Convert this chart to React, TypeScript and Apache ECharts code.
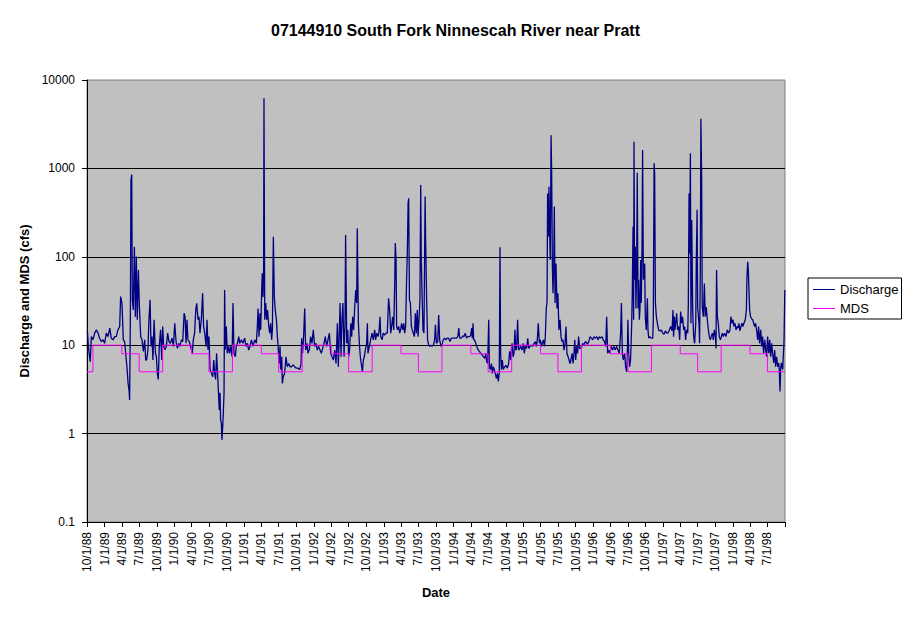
import { useEffect, useRef } from "react";
import * as echarts from "echarts";

// daily discharge, [days since 10/1/88, cfs], one list per water year
const wy1989 = [
  [2, 14.3], [9, 8.9], [17, 6.5], [23, 12.5], [31, 11.5], [40, 13.7], [49, 14.9], [58, 13.7], [66, 12], [75, 11],
  [84, 11.5], [92, 10.5], [101, 13.7], [110, 12.5], [119, 15.6], [127, 12], [136, 11.5], [145, 12.5], [153, 12.5],
  [162, 14.9], [171, 16.3], [176, 35.5], [183, 29.8], [190, 11.5], [197, 11], [204, 7.4], [209, 5.7], [215, 3.7],
  [220, 3.1], [223, 2.4], [227, 23], [230, 740], [234, 850], [237, 32.6], [242, 25], [248, 130], [253, 21],
  [258, 101], [263, 19.4], [269, 71], [274, 27.4], [281, 12.5], [288, 11.5], [295, 8.5], [302, 11.5], [307, 6.8],
  [312, 6.8], [319, 8.9], [324, 19.4], [330, 32.6], [335, 9.7], [340, 12.5], [345, 6.8], [351, 19.4], [358, 8.1],
  [363, 7.4],
];
const wy1990 = [
  [368, 4.8], [373, 4.1], [378, 9.7], [385, 14.9], [391, 6.8], [396, 16.3], [401, 9.7], [408, 8.9], [415, 9.7],
  [422, 13.7], [429, 11], [436, 10.5], [445, 12], [452, 9.7], [459, 17.7], [466, 11], [473, 9.2], [480, 10.5],
  [487, 9.7], [494, 11.5], [501, 11], [508, 23], [513, 21], [518, 10.5], [523, 19.4], [528, 11.5], [535, 11],
  [542, 9.7], [546, 8.9], [551, 8.1], [556, 11.5], [563, 13.7], [569, 25], [574, 29.8], [581, 19.4], [586, 21],
  [591, 13.7], [598, 19.4], [605, 38.8], [610, 16.3], [616, 13.7], [623, 9.7], [628, 19.4], [633, 8.9], [638, 12.5],
  [644, 5.3], [651, 4.8], [658, 4.4], [663, 6.8], [668, 4.8], [673, 4.1], [678, 8.1], [684, 4.4], [689, 2.6],
  [692, 1.85], [696, 2.9], [699, 1.43], [703, 1.31], [706, 0.85], [710, 1.2], [713, 1.7], [717, 2.9], [720, 42],
  [724, 8.9], [729, 16.3],
];
const wy1991 = [
  [734, 8.1], [741, 9.7], [746, 8.1], [752, 9.7], [759, 7.4], [764, 30], [769, 8.1], [776, 7.4], [781, 9.7],
  [787, 10.5], [794, 12.5], [799, 10.5], [808, 11.5], [816, 10.5], [825, 12], [832, 9.7], [839, 10.5], [846, 8.8],
  [853, 9.7], [860, 11.5], [869, 9.7], [877, 11.5], [886, 10.5], [891, 16.3], [895, 26], [900, 12.5], [905, 23],
  [909, 14.9], [914, 42], [917, 65], [921, 35], [924, 65], [926, 6200], [930, 19.4], [935, 30], [940, 19.4],
  [945, 25], [951, 16.3], [956, 13.7], [961, 17.7], [966, 11.5], [970, 14.9], [975, 169], [980, 35], [985, 25],
  [991, 19.4], [996, 12.5], [999, 10.5], [1005, 6.2], [1010, 9.7], [1013, 5.3], [1019, 7.4], [1022, 3.7],
  [1027, 4.4], [1034, 4.8], [1041, 7.4], [1048, 5.7], [1055, 6.2], [1062, 5.7], [1069, 5.7], [1078, 6],
  [1087, 5.7],
];
const wy1992 = [
  [1095, 5.5], [1104, 5.5], [1113, 5.3], [1120, 6.2], [1123, 12], [1128, 8.1], [1134, 13.7], [1139, 26],
  [1144, 8.8], [1151, 10.5], [1156, 8.1], [1163, 8.8], [1170, 12.5], [1177, 10.5], [1184, 14.9], [1191, 9.7],
  [1198, 10.5], [1205, 8.8], [1212, 9.7], [1219, 8.8], [1226, 8.1], [1233, 9.2], [1240, 10.5], [1247, 12.5],
  [1254, 9.7], [1261, 11.5], [1268, 13.7], [1275, 8.1], [1282, 7.4], [1289, 6.8], [1296, 8.8], [1303, 6.2],
  [1310, 17.7], [1315, 5.7], [1320, 13.7], [1324, 30], [1329, 7.4], [1334, 19.4], [1339, 30], [1345, 7.4],
  [1350, 17.7], [1353, 176], [1359, 10.5], [1364, 14.9], [1369, 7.4], [1374, 8.8], [1380, 17.7], [1385, 12.5],
  [1390, 21], [1395, 14.9], [1400, 25], [1406, 42], [1411, 30], [1414, 210], [1420, 17.7], [1425, 10.5],
  [1430, 7.4], [1435, 6.2], [1441, 5], [1446, 6.8], [1451, 7.4], [1456, 8.8],
];
const wy1993 = [
  [1463, 10.5], [1467, 17.7], [1470, 8.1], [1477, 9.7], [1484, 11.5], [1491, 13.7], [1498, 11.5], [1505, 14.9],
  [1510, 11.5], [1516, 13.7], [1523, 12.5], [1528, 14.3], [1533, 21], [1537, 12.5], [1544, 11.5], [1550, 13.7],
  [1557, 13], [1564, 13.7], [1571, 13.7], [1578, 34], [1584, 24], [1589, 13.7], [1594, 16.3], [1599, 21],
  [1605, 14.9], [1610, 50], [1613, 143], [1617, 92], [1620, 16.3], [1625, 14.9], [1631, 16.3], [1636, 13.7],
  [1641, 14.9], [1646, 17.7], [1652, 14.9], [1657, 17.7], [1662, 13.7], [1667, 16.3], [1673, 65], [1676, 110],
  [1680, 404], [1683, 460], [1687, 32.6], [1692, 30], [1697, 16.3], [1702, 14.9], [1707, 13.7], [1713, 12.5],
  [1718, 23], [1723, 13.7], [1728, 25], [1732, 12.5], [1737, 19.4], [1742, 32.6], [1746, 650], [1749, 92],
  [1753, 38.8], [1758, 14.9], [1763, 13.7], [1769, 480], [1772, 143], [1777, 32.6], [1782, 11.5], [1788, 10],
  [1793, 9.7], [1798, 10], [1805, 9.7], [1812, 10], [1819, 11.5], [1823, 17],
];
const wy1994 = [
  [1828, 10.5], [1835, 11], [1840, 22], [1845, 11.5], [1852, 9.7], [1857, 10], [1864, 11.5], [1871, 12],
  [1878, 11.5], [1885, 12], [1892, 12], [1899, 11], [1906, 12], [1913, 12], [1920, 12], [1927, 12], [1934, 12],
  [1941, 12.8], [1945, 15.6], [1950, 12], [1959, 12], [1967, 12.8], [1973, 12.5], [1979, 13.7], [1986, 12],
  [1993, 12.5], [2000, 12.5], [2007, 12.8], [2013, 15.6], [2016, 12], [2020, 17.7], [2023, 11.5], [2028, 11.5],
  [2034, 10.5], [2039, 9.7], [2046, 8.9], [2053, 8.5], [2060, 8.1], [2067, 7.8], [2074, 7.4], [2081, 7.1],
  [2086, 8.1], [2091, 6.5], [2096, 6.2], [2102, 19.4], [2105, 5.7], [2110, 5.3], [2116, 6.2], [2121, 4.8],
  [2126, 5.7], [2131, 5.3], [2136, 4.8], [2142, 4.2], [2147, 4.8], [2152, 3.9], [2157, 4.8], [2161, 128],
  [2164, 8.1], [2168, 5.3], [2173, 6.8], [2178, 5.3], [2185, 5.7],
];
const wy1995 = [
  [2192, 5.9], [2199, 5.5], [2206, 6.2], [2211, 8.5], [2217, 6.8], [2220, 8.8], [2224, 10.5], [2229, 7.4],
  [2234, 8.1], [2239, 14.9], [2243, 8.8], [2248, 9.2], [2253, 19.4], [2258, 8.8], [2264, 9.2], [2269, 9.7],
  [2276, 8.8], [2283, 10.5], [2288, 8.1], [2293, 9.7], [2300, 9.2], [2306, 12], [2311, 9.2], [2318, 9.7],
  [2325, 10], [2332, 9.7], [2339, 10.5], [2346, 11], [2351, 9.7], [2356, 11.5], [2361, 17.7], [2367, 10.5],
  [2372, 11.5], [2377, 9.7], [2382, 10.5], [2388, 11.5], [2393, 9.7], [2398, 12.5], [2403, 26], [2407, 31],
  [2410, 520], [2414, 170], [2417, 620], [2421, 170], [2424, 92], [2428, 2370], [2431, 960], [2435, 77],
  [2438, 38.7], [2442, 77], [2445, 370], [2449, 30], [2454, 84], [2459, 26], [2464, 38.7], [2469, 14.9],
  [2475, 19.4], [2480, 12.5], [2485, 11], [2490, 11.5], [2496, 8.8], [2501, 10.5], [2506, 16.3], [2511, 8.1],
  [2517, 7.4], [2522, 6.8], [2527, 6.2], [2532, 6.8], [2538, 8.1], [2543, 6.2], [2548, 8.1], [2552, 11.5],
  [2557, 6.8],
];
const wy1996 = [
  [2562, 9.7], [2567, 8.1], [2572, 12.5], [2578, 9.2], [2583, 9.2], [2588, 9.5], [2593, 10.5], [2600, 10],
  [2606, 10.9], [2611, 10.9], [2618, 10.3], [2625, 10.9], [2632, 12.5], [2639, 12], [2646, 11.5], [2653, 12.5],
  [2660, 12], [2667, 12.5], [2674, 11.5], [2681, 12.5], [2688, 12], [2695, 12.5], [2701, 11.5], [2708, 10.9],
  [2714, 9.7], [2719, 21], [2724, 8.1], [2729, 8.8], [2736, 8.1], [2743, 9.7], [2750, 8.8], [2757, 9.7],
  [2764, 8.8], [2771, 9.7], [2778, 8.8], [2785, 8.1], [2792, 13.7], [2796, 30], [2801, 8.1], [2806, 6.8],
  [2813, 8.1], [2818, 5.7], [2824, 5], [2827, 7.7], [2830, 19.4], [2834, 8.1], [2839, 5.7], [2844, 6.8],
  [2850, 17.7], [2853, 38.7], [2857, 220], [2860, 19.4], [2862, 2000], [2865, 55], [2869, 130], [2872, 26],
  [2876, 77], [2879, 890], [2883, 26], [2886, 55], [2890, 19.4], [2893, 25], [2897, 92], [2900, 30], [2904, 130],
  [2907, 1620], [2911, 55], [2914, 55], [2918, 84],
];
const wy1997 = [
  [2921, 21], [2926, 14.9], [2932, 34], [2935, 14.9], [2939, 12], [2944, 12.5], [2953, 12], [2960, 12],
  [2963, 19.4], [2967, 1140], [2970, 880], [2974, 30], [2979, 21], [2984, 17.7], [2991, 14.9], [2998, 14.5],
  [3005, 14.9], [3012, 13.7], [3019, 13.3], [3026, 14.5], [3033, 13.7], [3040, 13.7], [3047, 14.9], [3054, 16.3],
  [3061, 14.5], [3066, 25], [3069, 12.5], [3073, 21], [3076, 14.9], [3080, 17.7], [3085, 23], [3090, 14.9],
  [3096, 16.3], [3101, 11.5], [3106, 24], [3111, 17.7], [3116, 21], [3122, 14.9], [3127, 16.3], [3132, 11.5],
  [3137, 14.9], [3143, 13.7], [3146, 27], [3150, 520], [3153, 109], [3157, 1480], [3160, 17.7], [3164, 260],
  [3169, 25], [3174, 12.5], [3179, 10.5], [3185, 17.7], [3188, 92], [3192, 340], [3195, 27], [3199, 21],
  [3202, 17.7], [3205, 10.5], [3209, 71], [3212, 3650], [3216, 740], [3219, 27], [3225, 21], [3230, 50],
  [3235, 21], [3240, 27], [3246, 19], [3251, 14.9], [3256, 12.5], [3261, 11.5], [3266, 12.5], [3272, 13.7],
  [3277, 11.5], [3282, 14.9], [3288, 12.5], [3291, 9.2],
];
const wy1998 = [
  [3294, 71], [3298, 21], [3303, 17.7], [3308, 12.5], [3314, 11.5], [3319, 12.5], [3324, 13.7], [3329, 12.5],
  [3336, 13.7], [3343, 12.5], [3350, 14.9], [3357, 13.7], [3364, 14.9], [3369, 21], [3375, 17.7], [3380, 19.4],
  [3385, 16.3], [3390, 17.7], [3396, 14.9], [3401, 16.3], [3406, 15.6], [3411, 17.7], [3416, 14.5], [3422, 16.3],
  [3427, 17.7], [3432, 16.3], [3437, 17.7], [3444, 19.4], [3450, 25], [3453, 60], [3457, 88], [3460, 71],
  [3464, 38.7], [3467, 25], [3472, 21], [3478, 19.8], [3483, 19.4], [3488, 17.7], [3493, 16.3], [3498, 17.7],
  [3504, 14.5], [3509, 11.5], [3514, 16.3], [3519, 10.5], [3525, 14.9], [3530, 9.7], [3535, 12.5], [3540, 8.1],
  [3546, 11.5], [3551, 8.8], [3556, 7.4], [3561, 12.5], [3567, 8.1], [3572, 11.5], [3577, 7.4], [3582, 10.5],
  [3587, 8.1], [3593, 6.3], [3598, 8.8], [3603, 5.7], [3608, 7.4], [3614, 5.7], [3619, 6.3], [3622, 5.3],
  [3626, 3], [3629, 5.3], [3633, 6.3], [3636, 5.7], [3640, 5.3], [3643, 5.3], [3647, 11.5], [3651, 42],
];

// MDS: value holds from the date until the next change
const mdsSteps: [string, number][] = [
  ["10/1/88", 5], ["11/1/88", 10], ["4/1/89", 8], ["7/1/89", 5],
  ["11/1/89", 10], ["4/1/90", 8], ["7/1/90", 5],
  ["11/1/90", 10], ["4/1/91", 8], ["7/1/91", 5],
  ["11/1/91", 10], ["4/1/92", 8], ["7/1/92", 5],
  ["11/1/92", 10], ["4/1/93", 8], ["7/1/93", 5],
  ["11/1/93", 10], ["4/1/94", 8], ["7/1/94", 5],
  ["11/1/94", 10], ["4/1/95", 8], ["7/1/95", 5],
  ["11/1/95", 10], ["4/1/96", 8], ["7/1/96", 5],
  ["11/1/96", 10], ["4/1/97", 8], ["7/1/97", 5],
  ["11/1/97", 10], ["4/1/98", 8], ["7/1/98", 5],
  ["10/1/98", 5],
];

const tickLabels = [
  "10/1/88", "1/1/89", "4/1/89", "7/1/89", "10/1/89", "1/1/90", "4/1/90", "7/1/90",
  "10/1/90", "1/1/91", "4/1/91", "7/1/91", "10/1/91", "1/1/92", "4/1/92", "7/1/92",
  "10/1/92", "1/1/93", "4/1/93", "7/1/93", "10/1/93", "1/1/94", "4/1/94", "7/1/94",
  "10/1/94", "1/1/95", "4/1/95", "7/1/95", "10/1/95", "1/1/96", "4/1/96", "7/1/96",
  "10/1/96", "1/1/97", "4/1/97", "7/1/97", "10/1/97", "1/1/98", "4/1/98", "7/1/98",
];
const lastTick = "10/1/98";

const DAY = 86400000;
const parse = (s: string) => {
  const [m, d, y] = s.split("/").map(Number);
  return Date.UTC(1900 + y, m - 1, d);
};
const BASE = parse("10/1/88");
const FONT = '"Liberation Sans", Arial, sans-serif';

export default function App() {
  const chartRef = useRef<HTMLDivElement>(null);

  useEffect(() => {
    if (!chartRef.current) return;
    const chart = echarts.init(chartRef.current, null, { renderer: "svg" });

    const discharge = [...wy1989, ...wy1990, ...wy1991, ...wy1992, ...wy1993, ...wy1994, ...wy1995, ...wy1996, ...wy1997, ...wy1998]
      .map((p) => [BASE + p[0] * DAY, p[1]]);
    const mds = mdsSteps.map((p) => [parse(p[0]), p[1]]);
    const labelTimes = tickLabels.map(parse);
    const labelByTime = new Map(labelTimes.map((t, i) => [t, tickLabels[i]]));

    chart.setOption({
      animation: false,
      backgroundColor: "#fff",
      textStyle: { fontFamily: FONT },
      title: {
        text: "07144910 South Fork Ninnescah River near Pratt",
        left: "center",
        top: 22,
        padding: 0,
        textStyle: { fontSize: 16, fontWeight: "bold", color: "#000", fontFamily: FONT },
      },
      legend: {
        orient: "vertical",
        left: 808,
        top: 278,
        padding: [5, 3, 4, 5],
        icon: "rect",
        itemWidth: 22,
        itemHeight: 1,
        itemGap: 6,
        backgroundColor: "#fff",
        borderColor: "#000",
        borderWidth: 1,
        borderRadius: 0,
        textStyle: { fontSize: 13, color: "#000", fontFamily: FONT },
        data: ["Discharge", "MDS"],
      },
      grid: {
        left: 87,
        right: 126,
        top: 80,
        bottom: 101,
        show: true,
        backgroundColor: "#c0c0c0",
        borderColor: "#808080",
        borderWidth: 1,
      },
      xAxis: {
        type: "value",
        min: BASE,
        max: parse(lastTick),
        axisLine: { lineStyle: { color: "#000", width: 1 } },
        axisTick: {
          show: true,
          length: 5,
          customValues: [...labelTimes, parse(lastTick)],
          lineStyle: { color: "#000" },
        },
        axisLabel: {
          customValues: labelTimes,
          rotate: 90,
          margin: 10,
          fontSize: 12,
          color: "#000",
          fontFamily: FONT,
          formatter: (v: number) => labelByTime.get(v) ?? "",
        },
        splitLine: { show: false },
        name: "Date",
        nameLocation: "middle",
        nameGap: 64,
        nameTextStyle: { fontSize: 13, fontWeight: "bold", color: "#000", fontFamily: FONT },
      },
      yAxis: {
        type: "log",
        logBase: 10,
        min: 0.1,
        max: 10000,
        axisLine: { show: true, lineStyle: { color: "#000", width: 1 } },
        axisTick: { show: true, length: 5, lineStyle: { color: "#000" } },
        axisLabel: {
          margin: 12,
          fontSize: 12,
          color: "#000",
          fontFamily: FONT,
          formatter: (v: number) => (v < 1 ? v.toFixed(1) : String(Math.round(v))),
        },
        splitLine: { show: true, showMaxLine: false, showMinLine: false, lineStyle: { color: "#000", width: 1 } },
        minorSplitLine: { show: false },
        name: "Discharge and MDS (cfs)",
        nameLocation: "middle",
        nameGap: 46,
        nameTextStyle: { fontSize: 13, fontWeight: "bold", color: "#000", fontFamily: FONT },
      },
      series: [
        {
          name: "Discharge",
          type: "line",
          data: discharge,
          symbol: "none",
          lineStyle: { color: "#000080", width: 1.3 },
          itemStyle: { color: "#000080" },
        },
        {
          name: "MDS",
          type: "line",
          step: "end",
          data: mds,
          symbol: "none",
          lineStyle: { color: "#ff00ff", width: 1 },
          itemStyle: { color: "#ff00ff" },
        },
      ],
    });

    return () => {
      chart.dispose();
    };
  }, []);

  return (
    <div
      ref={chartRef}
      style={{ position: "fixed", left: 0, top: 0, width: 911, height: 623, background: "#fff" }}
    />
  );
}
